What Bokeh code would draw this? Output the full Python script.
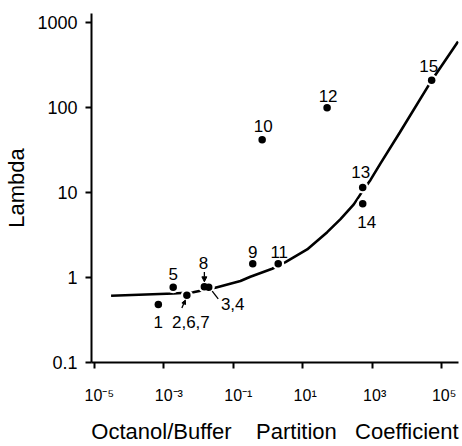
from bokeh.plotting import figure
from bokeh.models import (Range1d, FixedTicker, CustomJSTickFormatter, ColumnDataSource,
                          Arrow, NormalHead)
from bokeh.core.properties import value
from bokeh.embed import file_html
from bokeh.resources import INLINE

# ---- data ----
compounds = ["1", "2,6,7", "3,4", "5", "8", "9", "10", "11", "12", "13", "14", "15"]
partition = [7.1e-4, 4.7e-3, 0.020, 1.9e-3, 0.015, 0.37, 0.69, 2.0, 51, 540, 540, 5.2e4]
lambda_vals = [0.48, 0.62, 0.77, 0.77, 0.78, 1.45, 42, 1.45, 100, 11.5, 7.4, 210]

curve_partition = [3.1e-5, 1.95e-3, 7.2e-3, 0.0116, 0.031, 0.164, 0.316, 1.34, 3.24, 13.6,
                   51.4, 124, 299, 489, 906, 1740, 6300, 5.2e4, 3.0e5]
curve_lambda = [0.61, 0.65, 0.67, 0.70, 0.76, 0.91, 1.02, 1.27, 1.52, 2.14,
                3.42, 4.88, 7.26, 9.86, 14.1, 21.9, 51, 209, 600]

x_ticks = [1e-5, 1e-3, 1e-1, 1e1, 1e3, 1e5]
y_ticks = [0.1, 1, 10, 100, 1000]

# ---- label placement (screen px, down positive) ----
label_dx = [0, 4, 24, 0, -1, 0, 1, 1, 1, -2, 4, -3]
label_dy = [17, 27, 17, -13, -24, -12, -14, -12, -12, -15, 18, -14]

XPD = 34.75   # px per decade, x
YPD = 86.9    # px per decade, y
FONT = "Liberation Sans"

p = figure(width=462, height=446, x_axis_type="log", y_axis_type="log",
           x_range=Range1d(10 ** -5.072, 10 ** 5.489),
           y_range=Range1d(10 ** -1, 10 ** 3.108),
           output_backend="svg", toolbar_location=None,
           min_border_left=91, min_border_right=4, min_border_top=13, min_border_bottom=76)

p.grid.visible = False
p.outline_line_color = None
p.background_fill_color = "white"
p.border_fill_color = "white"

# curve
p.line(curve_partition, curve_lambda, line_color="black", line_width=2.6)

# data points (white halo creates gaps in the curve)
src = ColumnDataSource(dict(x=partition, y=lambda_vals, label=compounds,
                            dx=label_dx, dy=label_dy))
p.scatter("x", "y", source=src, size=12, fill_color="white", line_color=None)
p.scatter("x", "y", source=src, size=7.5, fill_color="black", line_color=None)

p.text("x", "y", text="label", source=src, x_offset="dx", y_offset="dy",
       text_align="center", text_baseline="middle",
       text_font=value(FONT), text_font_size="17px", text_color="black")


def shift(i, dx, dy):
    return partition[i] * 10 ** (dx / XPD), lambda_vals[i] * 10 ** (-dy / YPD)


# leader lines
i8 = compounds.index("8")
x0, y0 = shift(i8, 0, -15)
x1, y1 = shift(i8, 0, -5)
p.add_layout(Arrow(end=NormalHead(size=5, fill_color="black", line_color="black"),
                   x_start=x0, y_start=y0, x_end=x1, y_end=y1, line_width=1.3))
i2 = compounds.index("2,6,7")
x0, y0 = shift(i2, -5, 13)
x1, y1 = shift(i2, -1.5, 5)
p.add_layout(Arrow(end=NormalHead(size=4, fill_color="black", line_color="black"),
                   x_start=x0, y_start=y0, x_end=x1, y_end=y1, line_width=1.3))
i3 = compounds.index("3,4")
x0, y0 = shift(i3, 3.5, 4)
x1, y1 = shift(i3, 9.5, 12)
p.add_layout(Arrow(end=None, x_start=x0, y_start=y0, x_end=x1, y_end=y1, line_width=1.3))

# axes
for ax in (p.xaxis[0], p.yaxis[0]):
    ax.axis_line_width = 2
    ax.axis_line_color = "black"
    ax.major_tick_line_width = 2
    ax.major_tick_line_color = "black"
    ax.major_tick_out = 6
    ax.major_tick_in = 0
    ax.minor_tick_out = 0
    ax.minor_tick_in = 0
    ax.major_label_text_color = "black"
    ax.major_label_text_font = FONT
    ax.axis_label_text_font = FONT
    ax.axis_label_text_font_style = "normal"
    ax.axis_label_text_font_size = "22px"
    ax.axis_label_text_color = "black"

p.xaxis.ticker = FixedTicker(ticks=x_ticks)
p.yaxis.ticker = FixedTicker(ticks=y_ticks)
p.xaxis.formatter = CustomJSTickFormatter(code=r"""
const sup = {"-": "\u207b", "0": "\u2070", "1": "\u00b9", "2": "\u00b2", "3": "\u00b3",
             "4": "\u2074", "5": "\u2075", "6": "\u2076", "7": "\u2077", "8": "\u2078", "9": "\u2079"};
const e = Math.round(Math.log10(tick));
const s = String(e).split("").map(c => sup[c]).join("");
return "\u2004".repeat(s.length) + "10" + s;
""")
p.yaxis.formatter = CustomJSTickFormatter(code="""
return tick < 1 ? tick.toFixed(1) : tick.toFixed(0);
""")
p.xaxis.major_label_text_font_size = "16px"
p.yaxis.major_label_text_font_size = "18px"
p.xaxis.major_label_standoff = 18
p.yaxis.major_label_standoff = 8
p.xaxis.axis_label = "Octanol/Buffer\u00a0\u00a0\u00a0\u00a0Partition\u00a0\u00a0\u00a0Coefficient"
p.yaxis.axis_label = "Lambda"
p.xaxis.axis_label_standoff = 12
p.yaxis.axis_label_standoff = 5

open("out.html", "w").write(file_html(p, INLINE))
